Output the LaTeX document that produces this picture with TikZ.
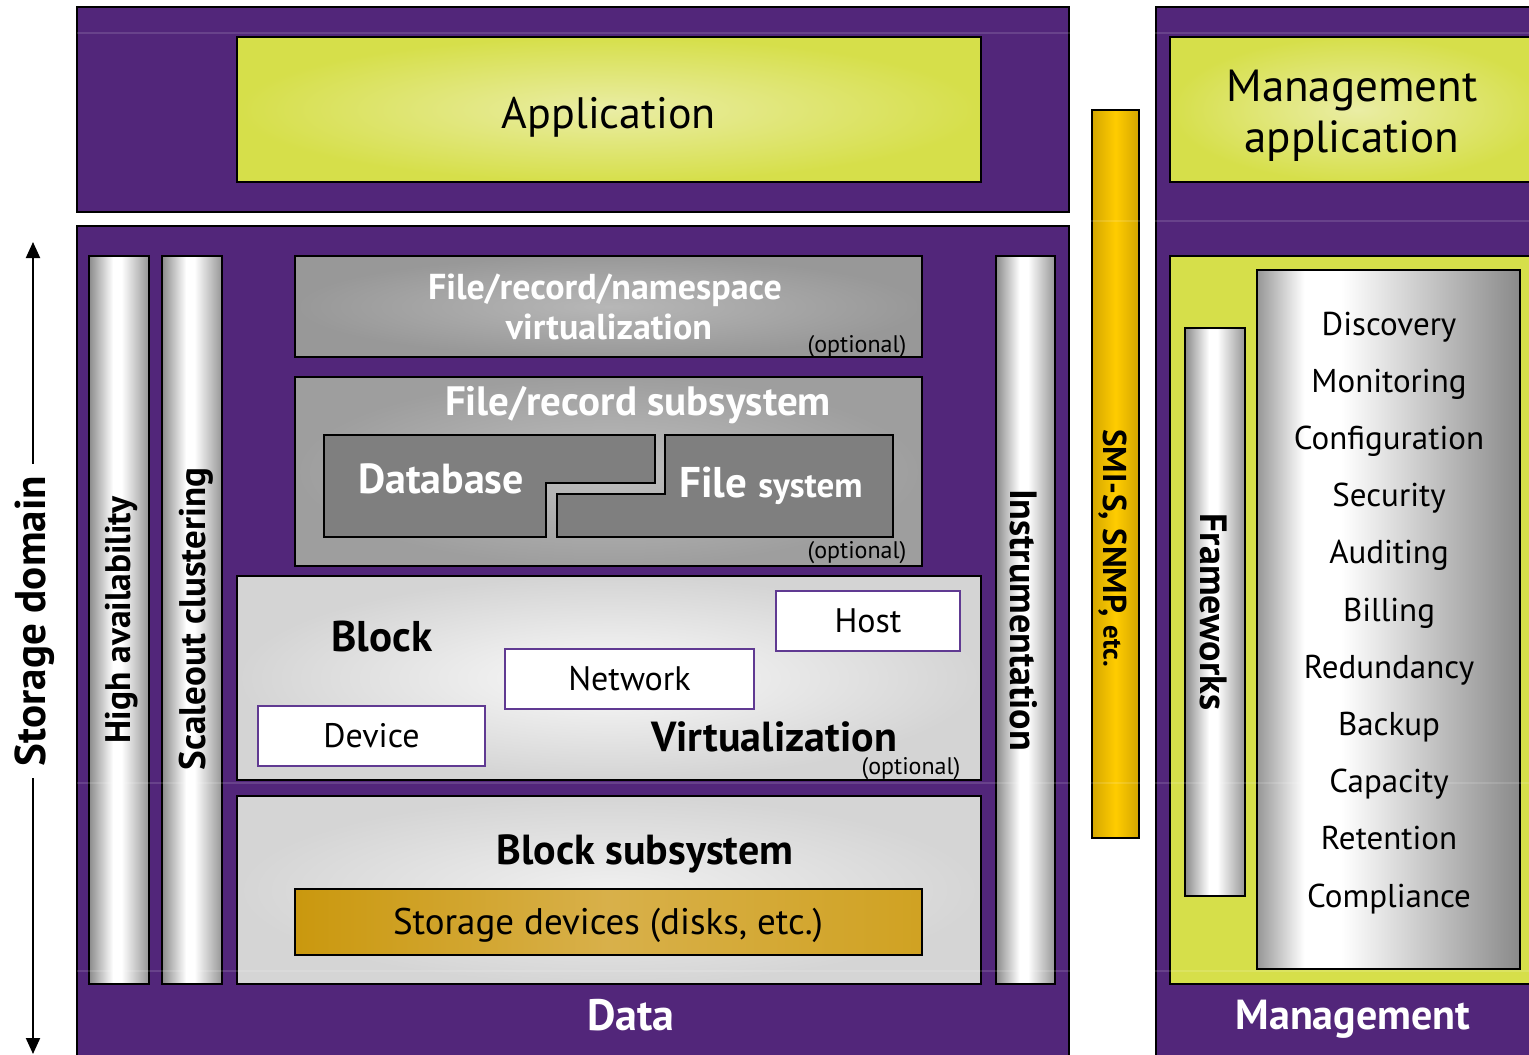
\documentclass[tikz,border=0pt]{standalone}
\usepackage{fontspec}
\setmainfont{PT Sans}
\usetikzlibrary{arrows.meta}
\definecolor{purp}{RGB}{82,38,122}
\definecolor{yg}{RGB}{214,223,74}
\definecolor{yglight}{RGB}{234,237,165}
\definecolor{cg1}{RGB}{138,138,138}
\definecolor{cg2}{RGB}{150,150,150}
\definecolor{gold1}{RGB}{212,166,0}
\definecolor{gold2}{RGB}{255,204,0}
\definecolor{boxpurp}{RGB}{96,58,146}
\pgfdeclarehorizontalshading{cylgrey}{100bp}{color(0bp)=(cg1); color(25bp)=(cg1); color(45bp)=(white); color(52bp)=(white); color(75bp)=(cg2); color(100bp)=(cg2)}
\pgfdeclarehorizontalshading{cyllist}{100bp}{color(0bp)=(cg2); color(25bp)=(cg2); color(34bp)=(white); color(41bp)=(white); color(75bp)=(cg1); color(100bp)=(cg1)}
\pgfdeclarehorizontalshading{cylgold}{100bp}{color(0bp)=(gold1); color(25bp)=(gold1); color(50bp)=(gold2); color(75bp)=(gold1); color(100bp)=(gold1)}
\newcommand{\setfs}[1]{\fontsize{#1}{#1}\selectfont}
\newcommand{\boxat}[6]{\node[#6, minimum width={#4-#2}, minimum height={#5-#3}] (#1) at ({(#2+#4)/2},{(#3+#5)/2}) {};}
\begin{document}
\begin{tikzpicture}[x=1pt,y=-1pt,
  bx/.style={draw=black,line width=2.5pt,inner sep=0pt,outer sep=0pt},
  purpbox/.style={bx,fill=purp},
  ygshade/.style={bx,inner color=yglight,outer color=yg},
  ygflat/.style={bx,fill=yg},
  greycyl/.style={bx,shading=cylgrey},
  listcyl/.style={bx,shading=cyllist},
  goldcyl/.style={bx,shading=cylgold},
  darkgrey/.style={bx,inner color={rgb,255:red,183;green,183;blue,183},outer color={rgb,255:red,152;green,152;blue,152}},
  midgrey/.style={bx,inner color={rgb,255:red,190;green,190;blue,190},outer color={rgb,255:red,158;green,158;blue,158}},
  lightgrey/.style={bx,inner color={rgb,255:red,250;green,250;blue,250},outer color={rgb,255:red,212;green,212;blue,212}},
  lightgrey2/.style={bx,inner color={rgb,255:red,240;green,240;blue,240},outer color={rgb,255:red,213;green,213;blue,213}},
  goldbox/.style={bx,left color={rgb,255:red,202;green,152;blue,14},right color={rgb,255:red,208;green,162;blue,34},middle color={rgb,255:red,216;green,176;blue,74}},
  wbox/.style={draw=boxpurp,line width=2pt,fill=white,inner sep=0pt,font=\setfs{34}},
  fill0/.style={draw=black,line width=2.5pt,fill={rgb,255:red,127;green,127;blue,127}},
  faint/.style={white,opacity=0.13,line width=1.2pt},
  wt/.style={text=white,font=\bfseries\setfs{#1}},
  bk/.style={text=black,font=\bfseries\setfs{#1}},
  rg/.style={text=black,font=\setfs{#1}},
  opt/.style={text=black,font=\setfs{24},anchor=base,inner sep=0pt},
  sdarrow/.style={line width=2pt,-{Triangle[width=14pt,length=16pt]}}
]
\useasboundingbox (0,0) rectangle (1529,1055);
\clip (0,0) rectangle (1529,1055);
% data column
\boxat{topL}{77}{7}{1069}{212}{purpbox}
\boxat{app}{237}{37}{981}{182}{ygshade}
\boxat{dataBox}{77}{226}{1069}{1070}{purpbox}
\boxat{ha}{89}{256}{149}{984}{greycyl}
\boxat{sc}{162}{256}{222}{984}{greycyl}
\boxat{fnv}{295}{256}{922}{357}{darkgrey}
\boxat{frs}{295}{377}{922}{566}{midgrey}
\draw[fill0] (324,435) -- (655,435) -- (655,483) -- (546,483) -- (546,537) -- (324,537) -- cycle;
\draw[fill0] (665,435) -- (893,435) -- (893,537) -- (557,537) -- (557,494) -- (665,494) -- cycle;
\boxat{bv}{237}{576}{981}{780}{lightgrey}
\boxat{bs}{237}{796}{981}{984}{lightgrey2}
\boxat{stor}{295}{889}{922}{955}{goldbox}
\boxat{instr}{996}{256}{1055}{984}{greycyl}
% SMI bar
\boxat{smi}{1092}{110}{1139}{838}{goldcyl}
% management column
\boxat{mgmt}{1156}{7}{1545}{1070}{purpbox}
\boxat{mapp}{1170}{37}{1545}{182}{ygshade}
\boxat{ygm}{1170}{256}{1545}{984}{ygflat}
\boxat{fw}{1185}{328}{1245}{896}{greycyl}
\boxat{list}{1257}{270}{1520}{969}{listcyl}
% faint slide lines
\foreach \yy in {33,221,783,971} {\draw[faint] (77,\yy) -- (1529,\yy);}
% white boxes
\node[wbox,minimum width=184,minimum height=60] (host) at (868,621) {Host};
\node[wbox,minimum width=249,minimum height=60] (net) at (629.5,679) {Network};
\node[wbox,minimum width=227,minimum height=60] (dev) at (371.5,736) {Device};
% texts
\node[rg=44,anchor=base] (tApp) at (609,128) {Application};
\node[rg=45,anchor=base] (tMA1) at (1352,101) {Management};
\node[rg=45,anchor=base] (tMA2) at (1352,152) {application};
\node[wt=44,anchor=base] (tData) at (631,1030) {Data};
\node[wt=42,anchor=base] (tMgmt) at (1353,1029) {Management};
\node[bk=35.5,rotate=90] (tHA) at (122,620) {High availability};
\node[bk=37,rotate=90] (tSC) at (196.5,619) {Scaleout clustering};
\node[bk=38,rotate=-90] (tIn) at (1024,620) {Instrumentation};
\node[bk=33,rotate=-90] (tSMI) at (1113,548) {SMI-S, SNMP, {\setfs{27}etc.}};
\node[bk=38,rotate=-90] (tFW) at (1214,612) {Frameworks};
\node[wt=36,anchor=base] (tFNV1) at (605,299) {File/record/namespace};
\node[wt=36,anchor=base] (tFNV2) at (609,339) {virtualization};
\node[opt] (tOpt1) at (857,352) {(optional)};
\node[wt=41,anchor=base] (tFRS) at (638,415) {File/record subsystem};
\node[wt=42,anchor=base] (tDB) at (441,493) {Database};
\node[wt=43,anchor=base] (tFS) at (771,497) {File {\setfs{35}system}};
\node[opt] (tOpt2) at (857,558) {(optional)};
\node[bk=43,anchor=base] (tBlock) at (382,651) {Block};
\node[bk=42,anchor=base] (tVirt) at (774,751) {Virtualization};
\node[opt] (tOpt3) at (911,774) {(optional)};
\node[bk=42,anchor=base] (tBS) at (645,864) {Block subsystem};
\node[rg=37,anchor=base] (tStor) at (608,934) {Storage devices (disks, etc.)};
% management list
\foreach \t [count=\i from 0] in {Discovery,Monitoring,Configuration,Security,Auditing,Billing,Redundancy,Backup,Capacity,Retention,Compliance}
  {\node[rg=33,anchor=base] (L\i) at (1389,{335+57.2*\i}) {\t};}
% storage domain arrow
\node[bk=43,rotate=90,inner xsep=12pt,inner ysep=2pt] (tSD) at (35,621) {Storage domain};
\coordinate (sdTop) at (33,242);
\coordinate (sdBot) at (33,1054);
\draw[sdarrow] (tSD.east -| sdTop) -- (sdTop);
\draw[sdarrow] (tSD.west -| sdBot) -- (sdBot);
\end{tikzpicture}
\end{document}
